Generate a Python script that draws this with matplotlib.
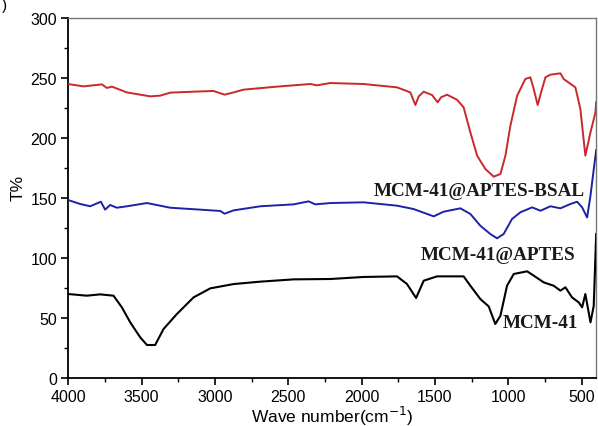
import matplotlib
matplotlib.use('Agg')
import matplotlib.pyplot as plt
from matplotlib.ticker import MultipleLocator

# FTIR spectra (wavenumber cm-1, T%)
bsal_wn = [4000, 3895, 3770, 3736, 3702, 3600, 3441, 3372, 3304, 3145, 3009,
           2934, 2872, 2804, 2577, 2349, 2304, 2213, 1986, 1758, 1667, 1633,
           1610, 1576, 1519, 1481, 1458, 1417, 1349, 1304, 1258, 1212, 1156,
           1099, 1053, 1019, 985, 939, 883, 849, 826, 799, 776, 746, 712, 644,
           622, 542, 508, 474, 439, 405, 400]
bsal_t = [245, 243, 244.7, 241.7, 242.8, 238, 234.7, 235.3, 237.8, 238.6, 239.2,
          236.1, 238, 240.3, 242.8, 245, 243.9, 245.8, 245, 242.2, 238, 227.5,
          234.7, 238.6, 235.8, 229.7, 233.9, 236.1, 231.9, 225.6, 204.7, 185.3, 174.2,
          167.8, 170, 185.3, 210.3, 235.3, 249.2, 250.6, 240.8, 227.5, 238, 250.6, 252.8, 253.9,
          249.2, 242.2, 224.2, 185.3, 204.7, 221.4, 230]

aptes_wn = [4000, 3918, 3850, 3777, 3748, 3714, 3668, 3600, 3463, 3304, 3100,
            2963, 2934, 2872, 2690, 2463, 2361, 2315, 2213, 1986, 1758, 1645,
            1508, 1440, 1326, 1258, 1190, 1122, 1076, 1031, 974, 917, 837, 780,
            712, 644, 576, 530, 496, 462, 439, 419, 400]
aptes_t = [148.3, 145, 143.1, 146.9, 140.3, 144.2, 141.9, 143.1, 145.8, 141.9, 140.3,
           139.2, 136.9, 139.7, 143.1, 144.7, 147.2, 144.7, 145.8, 146.4, 143.6, 140.8,
           134.7, 138.6, 141.4, 136.7, 126.9, 120, 116.4, 120, 132.5, 138.1, 142.2, 139.4,
           143.1, 141.4, 145, 146.9, 142.2, 133.8, 151.9, 171.7, 190]

mcm_wn = [4000, 3873, 3782, 3691, 3634, 3577, 3509, 3463, 3407, 3350, 3259,
          3145, 3031, 2872, 2690, 2463, 2213, 1986, 1758, 1690, 1628, 1576,
          1485, 1304, 1258, 1190, 1133, 1088, 1053, 1008, 962, 871, 826, 758,
          690, 644, 610, 565, 519, 496, 474, 439, 417, 400]
mcm_t = [70, 68.6, 69.7, 68.6, 58.9, 46.4, 33.9, 27.5, 27.5, 40.8, 53.3,
         67.2, 74.7, 78.3, 80.3, 82.2, 82.5, 84.2, 84.7, 78.3, 66.7, 81.1,
         84.7, 84.7, 76.9, 65.8, 59.7, 45, 51.9, 76.9, 86.7, 88.9, 85.3, 79.7,
         76.9, 72.8, 75.6, 67.2, 63, 58.9, 70, 46.4, 60, 120]

labels = ['MCM-41@APTES-BSAL', 'MCM-41@APTES', 'MCM-41']
label_pos = [(1919, 156), (1599, 103), (1040, 46)]

fig = plt.figure(figsize=(5.98, 4.27), dpi=100)
ax = fig.add_axes([0.114, 0.1124, 0.883, 0.8431])

ax.plot(bsal_wn, bsal_t, color='#c9282d', lw=1.4, zorder=3)
ax.plot(aptes_wn, aptes_t, color='#1c22a8', lw=1.4, zorder=3)
ax.plot(mcm_wn, mcm_t, color='black', lw=1.5, zorder=3)

for txt, (x, y) in zip(labels, label_pos):
    ax.text(x, y, txt, ha='left', va='center', fontsize=13.8, fontweight='bold',
            family='Liberation Serif', color='#1a1a1a', zorder=2, clip_on=True)

ax.set_xlim(4000, 400)
ax.set_ylim(0, 300)
ax.xaxis.set_major_locator(MultipleLocator(500))
ax.xaxis.set_minor_locator(MultipleLocator(250))
ax.yaxis.set_major_locator(MultipleLocator(50))
ax.yaxis.set_minor_locator(MultipleLocator(25))
ax.tick_params(which='major', direction='out', length=5, width=1.2, labelsize=11.5, pad=3)
ax.tick_params(which='minor', direction='out', length=3, width=1)
for lab in ax.get_xticklabels() + ax.get_yticklabels():
    lab.set_family('Liberation Sans')

for s in ['left', 'bottom']:
    ax.spines[s].set_linewidth(1.3)
for s in ['top', 'right']:
    ax.spines[s].set_color('#777777')
    ax.spines[s].set_linewidth(1.0)

ax.set_xlabel('Wave number(cm$^{-1}$)', fontsize=12.5, family='Liberation Sans', labelpad=0)
ax.set_ylabel('T%', fontsize=12.5, family='Liberation Sans', labelpad=1)
ax.yaxis.set_label_coords(-0.08, 0.53)

fig.text(0.004, 0.985, ')', fontsize=11, va='center', family='Liberation Sans')

fig.savefig('out.png', dpi=100)
